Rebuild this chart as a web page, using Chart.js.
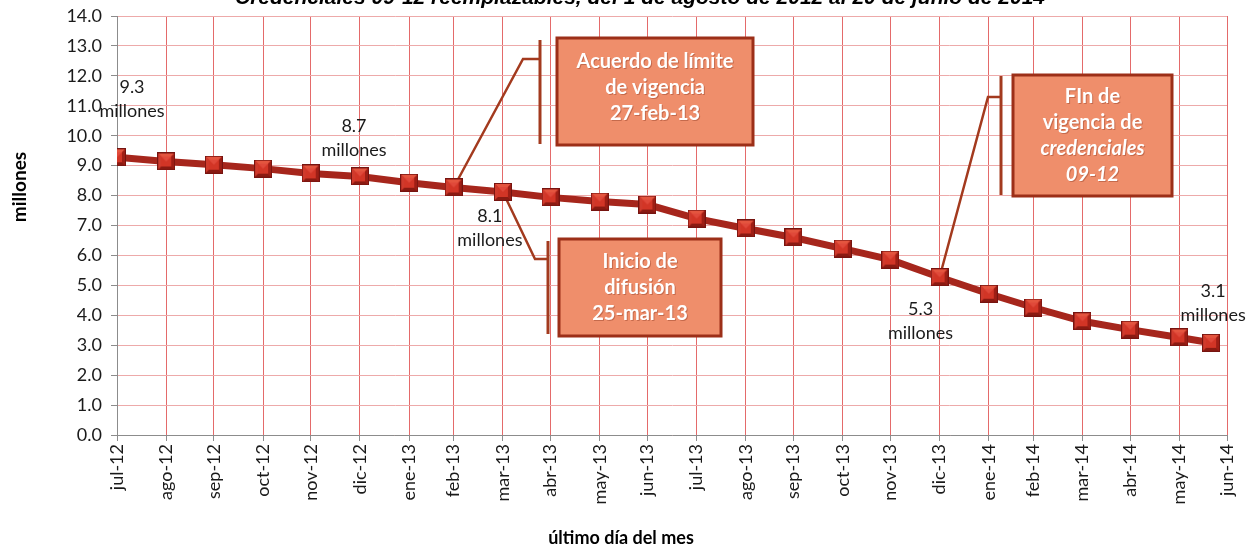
<!DOCTYPE html>
<html>
<head>
<meta charset="utf-8">
<script src="https://cdn.jsdelivr.net/npm/chart.js@4.4.1/dist/chart.umd.min.js"></script>
<style>
  html, body { margin: 0; padding: 0; background: #ffffff; }
  #wrap { width: 1249px; height: 546px; position: relative; }
</style>
</head>
<body>
<div id="wrap"><canvas id="c" width="1249" height="546"></canvas></div>
<script>
// ---------- DATA ----------
const chartTitle = 'Credenciales 09-12 reemplazables, del 1 de agosto de 2012 al 20 de junio de 2014';
const yTitle = 'millones';
const xTitle = 'último día del mes';

const pointDates = ['2012-07-31','2012-08-31','2012-09-30','2012-10-31','2012-11-30','2012-12-31',
  '2013-01-31','2013-02-28','2013-03-31','2013-04-30','2013-05-31','2013-06-30',
  '2013-07-31','2013-08-31','2013-09-30','2013-10-31','2013-11-30','2013-12-31',
  '2014-01-31','2014-02-28','2014-03-31','2014-04-30','2014-05-31','2014-06-20'];
const pointValues = [9.28, 9.14, 9.03, 8.90, 8.74, 8.64, 8.43, 8.27, 8.12, 7.94, 7.80, 7.70,
  7.23, 6.90, 6.60, 6.23, 5.86, 5.27, 4.72, 4.26, 3.80, 3.52, 3.26, 3.08];

const tickDates = ['2012-07-31','2012-08-31','2012-09-30','2012-10-31','2012-11-30','2012-12-31',
  '2013-01-31','2013-02-28','2013-03-31','2013-04-30','2013-05-31','2013-06-30',
  '2013-07-31','2013-08-31','2013-09-30','2013-10-31','2013-11-30','2013-12-31',
  '2014-01-31','2014-02-28','2014-03-31','2014-04-30','2014-05-31','2014-06-30'];
const tickLabels = ['jul-12','ago-12','sep-12','oct-12','nov-12','dic-12','ene-13','feb-13','mar-13',
  'abr-13','may-13','jun-13','jul-13','ago-13','sep-13','oct-13','nov-13','dic-13','ene-14','feb-14',
  'mar-14','abr-14','may-14','jun-14'];

const labelPoints = [0, 5, 8, 17, 23];
const labelTexts = [['9.3','millones'], ['8.7','millones'], ['8.1','millones'], ['5.3','millones'], ['3.1','millones']];

const calloutPoints = [7, 8, 17];
const calloutTexts = [
  [['Acuerdo de límite', false], ['de vigencia', false], ['27-feb-13', false]],
  [['Inicio de', false], ['difusión', false], ['25-mar-13', false]],
  [['FIn de', false], ['vigencia de', false], ['credenciales', true], ['09-12', true]]
];

// ---------- LAYOUT / STYLE ----------
const labelOffsets = [[15, -58], [-6, -38], [-13, 36], [-19, 44], [2, -40]];
const calloutGeom = [
  { elbow: [523, 59], bar: [540, 40, 144], box: [557, 38, 196, 107], shift: -4 },
  { elbow: [535, 259], bar: [548, 241, 334], box: [559, 239, 162, 97], shift: 0 },
  { elbow: [988, 97], bar: [1001, 76, 195], box: [1013, 75, 159, 121], shift: 0 }
];

const DAY = 86400000;
const toDay = s => Date.parse(s + 'T00:00:00Z') / DAY;
const tickDays = tickDates.map(toDay);

const FONT = 'Lato, "Open Sans", sans-serif';

// marker image
function makeMarker() {
  const s = 18;
  const cv = document.createElement('canvas');
  cv.width = s; cv.height = s;
  const c = cv.getContext('2d');
  c.fillStyle = '#C0281E';
  c.fillRect(0, 0, s, s);
  const b = 4;
  c.fillStyle = '#E4553F';
  c.beginPath(); c.moveTo(0,0); c.lineTo(s,0); c.lineTo(s-b,b); c.lineTo(b,b); c.closePath(); c.fill();
  c.fillStyle = '#D03A2C';
  c.beginPath(); c.moveTo(0,0); c.lineTo(b,b); c.lineTo(b,s-b); c.lineTo(0,s); c.closePath(); c.fill();
  c.fillStyle = '#9E1E15';
  c.beginPath(); c.moveTo(s,0); c.lineTo(s,s); c.lineTo(s-b,s-b); c.lineTo(s-b,b); c.closePath(); c.fill();
  c.fillStyle = '#8A1A12';
  c.beginPath(); c.moveTo(0,s); c.lineTo(s,s); c.lineTo(s-b,s-b); c.lineTo(b,s-b); c.closePath(); c.fill();
  c.fillStyle = '#D23526';
  c.fillRect(b, b, s-2*b, s-2*b);
  c.fillStyle = '#E0493A';
  c.beginPath(); c.moveTo(b,b); c.lineTo(s-b,b); c.lineTo(s/2, s/2); c.closePath(); c.fill();
  c.strokeStyle = '#761410';
  c.lineWidth = 1;
  c.strokeRect(0.5, 0.5, s-1, s-1);
  return cv;
}

const extrasPlugin = {
  id: 'extras',
  beforeDatasetsDraw(chart) {
    const ctx = chart.ctx;
    const meta = chart.getDatasetMeta(0);
    ctx.save();
    calloutPoints.forEach((pi, k) => {
      const g = calloutGeom[k];
      const p = meta.data[pi];
      ctx.strokeStyle = '#A33A1E';
      ctx.lineWidth = 2.5;
      ctx.beginPath();
      ctx.moveTo(p.x, p.y);
      ctx.lineTo(g.elbow[0], g.elbow[1]);
      ctx.lineTo(g.bar[0], g.elbow[1]);
      ctx.stroke();
      ctx.lineWidth = 3;
      ctx.beginPath();
      ctx.moveTo(g.bar[0], g.bar[1]);
      ctx.lineTo(g.bar[0], g.bar[2]);
      ctx.stroke();
      const [bx, by, bw, bh] = g.box;
      ctx.fillStyle = '#EF8E6B';
      ctx.fillRect(bx, by, bw, bh);
      ctx.strokeStyle = '#9C2F18';
      ctx.lineWidth = 3;
      ctx.strokeRect(bx, by, bw, bh);
      const lines = calloutTexts[k];
      const lh = 26;
      const cy = by + bh / 2 + g.shift;
      const y0 = cy - (lines.length - 1) * lh / 2;
      ctx.textAlign = 'center';
      ctx.textBaseline = 'middle';
      lines.forEach((ln, i) => {
        ctx.font = (ln[1] ? 'italic ' : '') + 'bold 20px ' + FONT;
        ctx.fillStyle = 'rgba(120,40,20,0.35)';
        ctx.fillText(ln[0], bx + bw / 2 + 1, y0 + i * lh + 1);
        ctx.fillStyle = '#FFFFFF';
        ctx.fillText(ln[0], bx + bw / 2, y0 + i * lh);
      });
    });
    ctx.restore();
  },
  afterDraw(chart) {
    const ctx = chart.ctx;
    const meta = chart.getDatasetMeta(0);
    ctx.save();
    ctx.font = '18px ' + FONT;
    ctx.fillStyle = '#1a1a1a';
    ctx.textAlign = 'center';
    ctx.textBaseline = 'middle';
    labelPoints.forEach((pi, k) => {
      const p = meta.data[pi];
      const [dx, dy] = labelOffsets[k];
      const lines = labelTexts[k];
      const lh = 24;
      const y0 = p.y + dy - (lines.length - 1) * lh / 2;
      lines.forEach((t, i) => ctx.fillText(t, p.x + dx, y0 + i * lh));
    });
    ctx.font = 'italic bold 21px Arial, "Liberation Sans", sans-serif';
    ctx.fillStyle = '#000';
    ctx.textBaseline = 'alphabetic';
    ctx.fillText(chartTitle, 640, 4);
    ctx.font = 'bold 18px ' + FONT;
    ctx.textBaseline = 'middle';
    ctx.fillText(xTitle, 621, 538);
    ctx.translate(20, 187);
    ctx.rotate(-Math.PI / 2);
    ctx.font = 'bold 19px ' + FONT;
    ctx.fillText(yTitle, 0, 0);
    ctx.restore();
  }
};

new Chart(document.getElementById('c'), {
  type: 'line',
  data: {
    datasets: [{
      data: pointDates.map((d, i) => ({ x: toDay(d), y: pointValues[i] })),
      borderColor: '#A6261C',
      borderWidth: 7,
      tension: 0,
      pointStyle: makeMarker(),
      pointRadius: 9,
      fill: false
    }]
  },
  options: {
    responsive: false,
    animation: false,
    events: [],
    layout: { padding: { top: 15, right: 22, left: 0, bottom: 0 } },
    plugins: { legend: { display: false }, tooltip: { enabled: false }, title: { display: false } },
    scales: {
      x: {
        type: 'linear',
        min: tickDays[0],
        max: tickDays[tickDays.length - 1],
        afterBuildTicks: s => { s.ticks = tickDays.map(v => ({ value: v })); },
        afterFit: s => { s.height = 111; s.paddingLeft = 0; s.paddingRight = 0; },
        ticks: {
          autoSkip: false,
          minRotation: 90,
          maxRotation: 90,
          padding: 3,
          color: '#1a1a1a',
          font: { family: FONT, size: 18 },
          callback: (v, i) => tickLabels[i]
        },
        grid: {
          color: '#E46A6A',
          lineWidth: 1,
          borderDash: [2, 2],
          tickLength: 6,
          tickColor: '#8c8c8c',
          tickBorderDash: []
        },
        border: { color: '#8c8c8c', width: 1 }
      },
      y: {
        min: 0,
        max: 14,
        afterFit: s => { s.width = 117; s.paddingTop = 0; s.paddingBottom = 0; },
        ticks: {
          stepSize: 1,
          padding: 9,
          color: '#1a1a1a',
          font: { family: FONT, size: 18 },
          callback: v => Number(v).toFixed(1)
        },
        grid: {
          color: '#EDAAAA',
          lineWidth: 1,
          borderDash: [2, 2],
          tickLength: 6,
          tickColor: '#8c8c8c',
          tickBorderDash: []
        },
        border: { color: '#8c8c8c', width: 1 }
      }
    }
  },
  plugins: [extrasPlugin]
});
</script>
</body>
</html>
